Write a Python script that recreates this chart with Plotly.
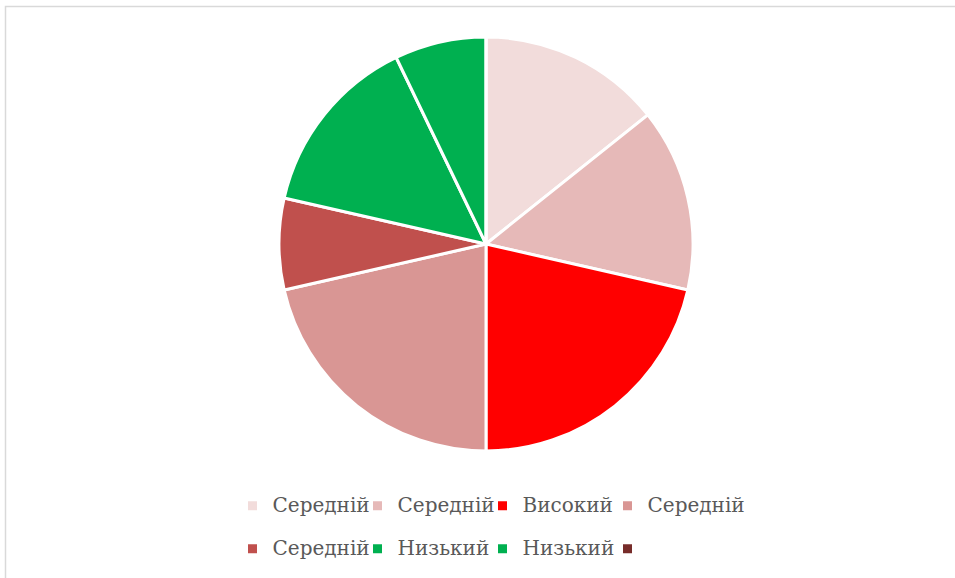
import plotly.graph_objects as go

labels = ["Середній", "Середній", "Високий", "Середній", "Середній", "Низький", "Низький", ""]
values = [2, 2, 3, 3, 1, 2, 1, 0]
colors = ["#F2DCDB", "#E6B9B8", "#FF0000", "#D99694", "#C0504D", "#00B050", "#00B050", "#772C2A"]

# unique legend entries (pie would otherwise merge equal labels): zero-width spaces,
# text drawn at 20px with an empty second line to give Excel-like row spacing
uniq = ["<span style='font-size:20px'>" + lab + "</span>" + "\u200b" * i + "<br>\u200b"
        for i, lab in enumerate(labels)]

W, H = 955, 578
ML, MR = 180, 180
gw = W - ML - MR
cx, cy, r = 486, 244, 207

fig = go.Figure(go.Pie(
    labels=uniq,
    values=values,
    marker=dict(colors=colors, line=dict(color="white", width=3)),
    sort=False,
    direction="clockwise",
    rotation=0,
    textinfo="none",
    hoverinfo="value",
    domain=dict(x=[(cx - r - ML) / gw, (cx + r - ML) / gw],
                y=[(H - (cy + r)) / H, (H - (cy - r)) / H]),
))

# invisible wide legend title: widens the legend box so the last column is not clipped
spacer = "<span style='font-size:20px'>" + "\u00a0" * 100 + "</span>"

fig.update_layout(
    width=W, height=H,
    margin=dict(l=ML, r=MR, t=0, b=0, autoexpand=False),
    paper_bgcolor="white",
    plot_bgcolor="white",
    showlegend=True,
    legend=dict(
        orientation="h",
        x=(232.5 - ML) / gw, xanchor="left",
        y=(H - 488) / H, yanchor="top",
        font=dict(family="DejaVu Serif", size=15.4, color="#595959"),
        title=dict(text=spacer, font=dict(size=1), side="top"),
        entrywidth=80, entrywidthmode="pixels",
        valign="top",
        traceorder="normal",
    ),
    shapes=[dict(type="rect", xref="paper", yref="paper",
                 x0=(5.5 - ML) / gw, x1=(W + 5 - ML) / gw,
                 y0=-0.05, y1=(H - 6.5) / H,
                 line=dict(color="#D9D9D9", width=1.5), fillcolor="rgba(0,0,0,0)",
                 layer="below")],
)

fig.write_html("out.html")
